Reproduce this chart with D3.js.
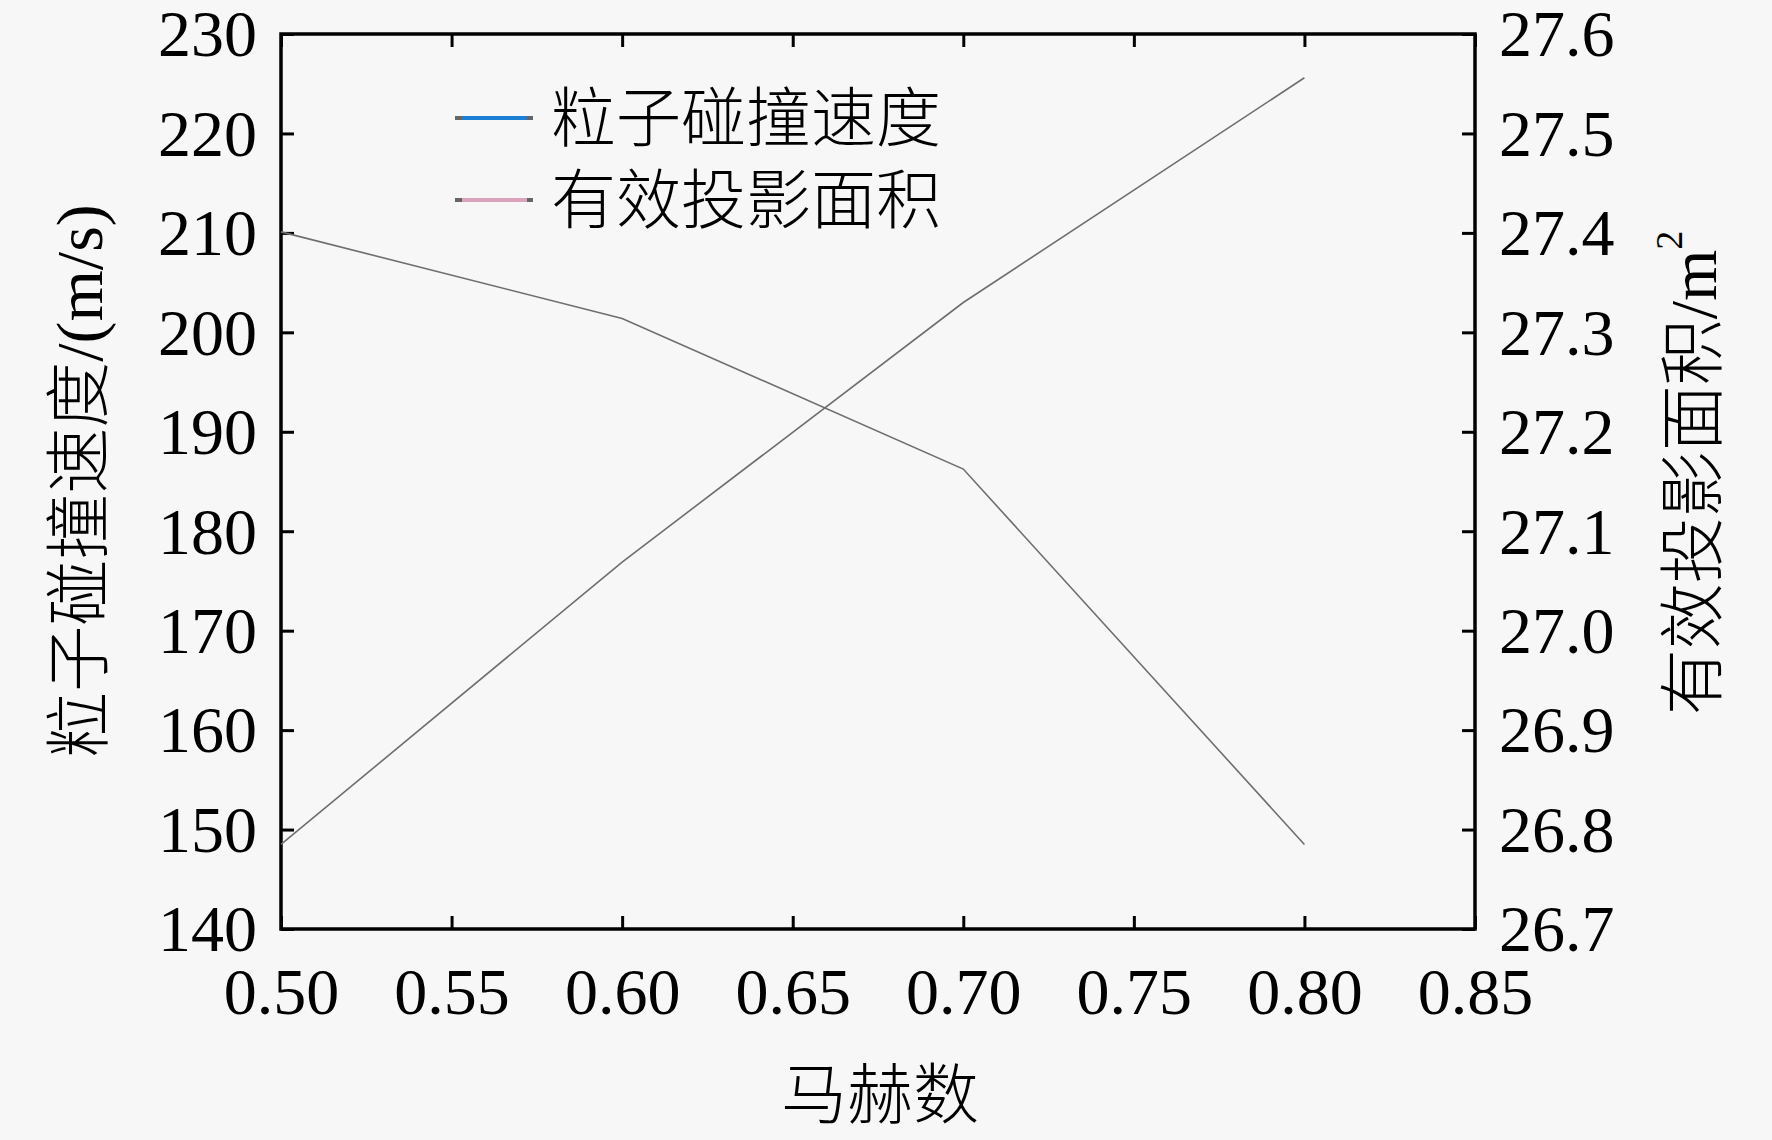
<!DOCTYPE html>
<html>
<head>
<meta charset="utf-8">
<script src="https://cdn.jsdelivr.net/npm/d3@7"></script>
<style>
html,body{margin:0;padding:0;background:#f7f7f7;}
svg{display:block;}
.serif{font-family:'Liberation Serif','Times New Roman','DejaVu Serif',serif;}
.cjk{font-family:'Noto Sans CJK SC','Noto Sans CJK JP',sans-serif;font-weight:300;}
</style>
</head>
<body>
<svg id="chart" width="1772" height="1140"></svg>
<script>
const machNumbers = [0.50, 0.60, 0.70, 0.80];
const collisionSpeed = [148.5, 176.9, 203.0, 225.6];
const projectedArea = [27.401, 27.314, 27.1625, 26.785];
const xTicks = [0.50, 0.55, 0.60, 0.65, 0.70, 0.75, 0.80, 0.85];
const leftTicks = [140, 150, 160, 170, 180, 190, 200, 210, 220, 230];
const rightTicks = [26.7, 26.8, 26.9, 27.0, 27.1, 27.2, 27.3, 27.4, 27.5, 27.6];
const seriesNames = ["粒子碰撞速度", "有效投影面积"];
const legendColors = ["#1b7fd6", "#dba3bb"];

const W = 1772, H = 1140;
const m = {left: 281, right: 1475, top: 34, bottom: 929};
const svg = d3.select("#chart");
svg.append("rect").attr("width", W).attr("height", H).attr("fill", "#f7f7f7");

const x = d3.scaleLinear().domain([0.50, 0.85]).range([m.left, m.right]);
const yL = d3.scaleLinear().domain([140, 230]).range([m.bottom, m.top]);
const yR = d3.scaleLinear().domain([26.7, 27.6]).range([m.bottom, m.top]);

const fs = 66, tickLen = 13;

function styleAxis(g) {
  g.attr("font-family", null).attr("font-size", null);
  g.select(".domain").remove();
  g.selectAll(".tick line").attr("stroke", "#000").attr("stroke-width", 3);
  g.selectAll(".tick text").attr("class", "serif").attr("font-size", fs).attr("fill", "#000");
}

// bottom axis (ticks inward)
const gB = svg.append("g").attr("transform", `translate(0,${m.bottom})`)
  .call(d3.axisBottom(x).tickValues(xTicks).tickFormat(d3.format(".2f")).tickSizeInner(-tickLen).tickSizeOuter(0));
styleAxis(gB);
gB.selectAll(".tick text").attr("y", 38).attr("dy", "0.71em");

// top ticks
const gT = svg.append("g").attr("transform", `translate(0,${m.top})`)
  .call(d3.axisTop(x).tickValues(xTicks).tickFormat("").tickSizeInner(-tickLen).tickSizeOuter(0));
styleAxis(gT);

// left axis
const gL = svg.append("g").attr("transform", `translate(${m.left},0)`)
  .call(d3.axisLeft(yL).tickValues(leftTicks).tickFormat(d3.format("d")).tickSizeInner(-tickLen).tickSizeOuter(0));
styleAxis(gL);
gL.selectAll(".tick text").attr("x", -24).attr("dy", "0.33em");

// right axis
const gR = svg.append("g").attr("transform", `translate(${m.right},0)`)
  .call(d3.axisRight(yR).tickValues(rightTicks).tickFormat(d3.format(".1f")).tickSizeInner(-tickLen).tickSizeOuter(0));
styleAxis(gR);
gR.selectAll(".tick text").attr("x", 24).attr("dy", "0.33em");

// frame
svg.append("rect").attr("x", m.left).attr("y", m.top)
  .attr("width", m.right - m.left).attr("height", m.bottom - m.top)
  .attr("fill", "none").attr("stroke", "#000").attr("stroke-width", 3.5);

// data lines
const lineL = d3.line().x((d, i) => x(machNumbers[i])).y(d => yL(d));
const lineR = d3.line().x((d, i) => x(machNumbers[i])).y(d => yR(d));
svg.append("path").datum(collisionSpeed).attr("d", lineL)
  .attr("fill", "none").attr("stroke", "#6e6e6e").attr("stroke-width", 1.6);
svg.append("path").datum(projectedArea).attr("d", lineR)
  .attr("fill", "none").attr("stroke", "#6e6e6e").attr("stroke-width", 1.6);

// legend
const legY = [118, 200];
seriesNames.forEach((name, i) => {
  svg.append("line").attr("x1", 455).attr("x2", 533).attr("y1", legY[i]).attr("y2", legY[i])
    .attr("stroke", legendColors[i]).attr("stroke-width", 4);
  svg.append("line").attr("x1", 455).attr("x2", 462).attr("y1", legY[i]).attr("y2", legY[i])
    .attr("stroke", "#666").attr("stroke-width", 4);
  svg.append("line").attr("x1", 527).attr("x2", 533).attr("y1", legY[i]).attr("y2", legY[i])
    .attr("stroke", "#666").attr("stroke-width", 4);
  svg.append("text").attr("class", "cjk").attr("x", 551).attr("y", legY[i]).attr("dy", "0.36em")
    .attr("font-size", 65).text(name);
});

// axis titles
svg.append("text").attr("class", "cjk").attr("x", 880).attr("y", 1094).attr("dy", "0.36em")
  .attr("text-anchor", "middle").attr("font-size", fs).text("马赫数");

const tl = svg.append("text").attr("transform", "translate(78,481) rotate(-90)")
  .attr("text-anchor", "middle").attr("dy", "0.36em").attr("font-size", fs);
tl.append("tspan").attr("class", "cjk").text("粒子碰撞速度");
tl.append("tspan").attr("class", "serif").text("/(m/s)");

const tr = svg.append("text").attr("transform", "translate(1692,473) rotate(-90)")
  .attr("text-anchor", "middle").attr("dy", "0.36em").attr("font-size", fs);
tr.append("tspan").attr("class", "cjk").text("有效投影面积");
tr.append("tspan").attr("class", "serif").text("/m");
tr.append("tspan").attr("class", "serif").attr("font-size", 38).attr("dy", "-0.9em").text("2");
</script>
</body>
</html>
